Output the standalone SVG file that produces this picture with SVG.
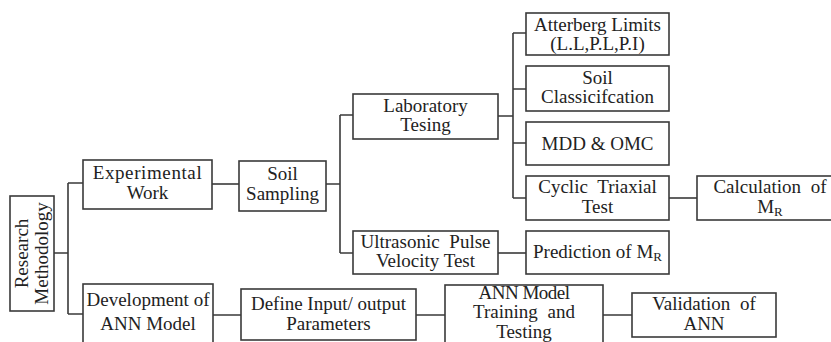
<svg xmlns="http://www.w3.org/2000/svg" width="831" height="342" viewBox="0 0 831 342" font-family="'Liberation Serif', 'Times New Roman', serif">
<style>
.box{fill:#fff;stroke:#3a3a3a;stroke-width:1.6}
.c{fill:none;stroke:#3a3a3a;stroke-width:1.6}
text{font-family:"Liberation Serif","Times New Roman",serif;font-size:19px;fill:#222;text-anchor:middle}
.ws{word-spacing:5px}
.sub{font-size:13px}
</style>
<rect width="831" height="342" fill="#fff"/>
<g id="connectors">
<path class="c" d="M54 253H68M68 183V314M68 183H83M68 314H83"/>
<path class="c" d="M212 184H239"/>
<path class="c" d="M326 184H340M340 115V253M340 115H353M340 253H353"/>
<path class="c" d="M498 116H513M513 33V198M513 33H526M513 89H526M513 143H526M513 198H526"/>
<path class="c" d="M669 198H697"/>
<path class="c" d="M498 253H526"/>
<path class="c" d="M213 315H241M416 315H445M603 315H632"/>
</g>
<g id="research-methodology">
<rect class="box" x="10" y="196" width="44" height="115"/>
<g transform="translate(32,253.5) rotate(-90)">
<text x="0" y="-4">Research</text>
<text x="0" y="16">Methodology</text>
</g>
</g>
<g id="experimental-work">
<rect class="box" x="83" y="160" width="129" height="49"/>
<text x="147.5" y="179" style="letter-spacing:0.6px">Experimental</text>
<text x="147.5" y="199">Work</text>
</g>
<g id="development-ann">
<rect class="box" x="83" y="284" width="130" height="70"/>
<text x="148" y="306">Development of</text>
<text x="148" y="330">ANN Model</text>
</g>
<g id="soil-sampling">
<rect class="box" x="239" y="161" width="87" height="50"/>
<text x="282.5" y="180">Soil</text>
<text x="282.5" y="200">Sampling</text>
</g>
<g id="laboratory-testing">
<rect class="box" x="353" y="94" width="145" height="45"/>
<text x="425.5" y="112">Laboratory</text>
<text x="425.5" y="131">Tesing</text>
</g>
<g id="ultrasonic">
<rect class="box" x="353" y="231" width="145" height="43"/>
<text x="425.5" y="248" class="ws">Ultrasonic Pulse</text>
<text x="425.5" y="267">Velocity Test</text>
</g>
<g id="atterberg">
<rect class="box" x="526" y="13" width="143" height="42"/>
<text x="597.5" y="31">Atterberg Limits</text>
<text x="597.5" y="50">(L.L,P.L,P.I)</text>
</g>
<g id="soil-classification">
<rect class="box" x="526" y="66" width="143" height="45"/>
<text x="597.5" y="84">Soil</text>
<text x="597.5" y="103">Classicifcation</text>
</g>
<g id="mdd-omc">
<rect class="box" x="526" y="122" width="143" height="43"/>
<text x="597.5" y="150">MDD &amp; OMC</text>
</g>
<g id="cyclic-triaxial">
<rect class="box" x="526" y="176" width="143" height="44"/>
<text x="597.5" y="193" class="ws">Cyclic Triaxial</text>
<text x="597.5" y="213">Test</text>
</g>
<g id="calculation-mr">
<rect class="box" x="697" y="176" width="148" height="44"/>
<text x="770" y="193" class="ws">Calculation of</text>
<text x="770" y="213">M<tspan class="sub" dy="3">R</tspan></text>
</g>
<g id="prediction-mr">
<rect class="box" x="526" y="231" width="143" height="43"/>
<text x="597.5" y="258">Prediction of M<tspan class="sub" dy="3">R</tspan></text>
</g>
<g id="define-io">
<rect class="box" x="241" y="289" width="175" height="51"/>
<text x="328.5" y="310">Define Input/ output</text>
<text x="328.5" y="330">Parameters</text>
</g>
<g id="ann-training">
<rect class="box" x="445" y="285" width="158" height="70"/>
<text x="524" y="299" style="letter-spacing:-0.5px">ANN Model</text>
<text x="524" y="318" class="ws">Training and</text>
<text x="524" y="338">Testing</text>
</g>
<g id="validation-ann">
<rect class="box" x="632" y="293" width="144" height="44"/>
<text x="704" y="310" class="ws">Validation of</text>
<text x="704" y="330">ANN</text>
</g>
</svg>
